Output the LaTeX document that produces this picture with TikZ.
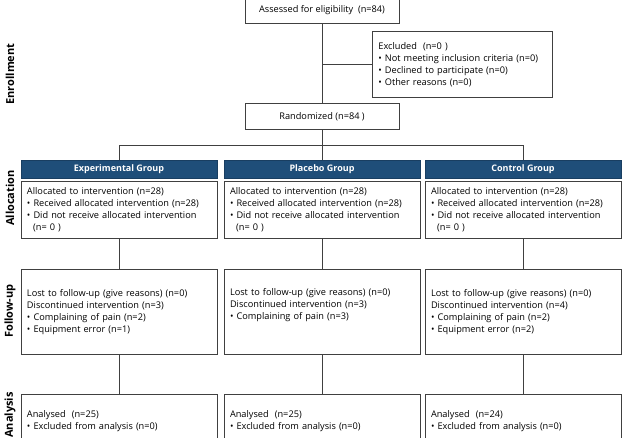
\documentclass[tikz,border=0pt]{standalone}
\usepackage{fontspec}
\setmainfont{Open Sans}
\usepackage{tikz}
\usetikzlibrary{positioning,calc}
\definecolor{FlowNavy}{HTML}{1F4E79}
\definecolor{FlowLine}{HTML}{404040}

\begin{document}
\begin{tikzpicture}[
  x=1pt, y=-1pt,
  panel/.style={draw=FlowLine, line width=0.8pt, fill=white, text width=184pt, inner xsep=6pt, inner ysep=0pt, minimum width=196pt, align=left, font=\fontsize{9.2}{12}\selectfont},
  small/.style={draw=FlowLine, line width=0.8pt, fill=white, minimum width=154pt, minimum height=26pt, align=center, font=\fontsize{9.2}{12}\selectfont},
  header/.style={draw=FlowNavy!80!black, fill=FlowNavy, text=white, minimum width=196pt, minimum height=18pt, inner sep=0pt, font=\fontsize{9}{10}\selectfont\bfseries},
  stage/.style={rotate=90, font=\fontsize{11}{12}\selectfont\bfseries},
  link/.style={draw=FlowLine, line width=0.8pt}
]
  \useasboundingbox (0,0) rectangle (626,438);

  % stage labels
  \node[stage] (lenrol) at (10,74) {Enrollment};
  \node[stage] (lalloc) at (10,198) {Allocation};
  \node[stage] (lfollow) at (10,311) {Follow-up};
  \node[stage] (lanalys) at (10,415) {Analysis};

  % enrollment
  \node[small] (assess) at (322,10.5) {Assessed for eligibility\ \ (n=84)};
  \node[panel, text width=168pt, minimum width=180pt, minimum height=66pt, anchor=north west] (excl) at (372,31)
    {Excluded\ \ (n=0 )\\ • Not meeting inclusion criteria (n=0)\\ • Declined to participate (n=0)\\ • Other reasons (n=0)};
  \node[small] (rand) at (322,116.5) {Randomized (n=84 )};

  % groups
  \node[header] (hexp) at (119,169) {Experimental Group};
  \node[header] (hplac) at (322,169) {Placebo Group};
  \node[header] (hctrl) at (523,169) {Control Group};

  \node[panel, minimum height=57pt, anchor=north] (aexp) at (119,181)
    {Allocated to intervention (n=28)\\ • Received allocated intervention (n=28)\\ • Did not receive allocated intervention\\ \ \ (n= 0 )};
  \node[panel, minimum height=57pt, anchor=north] (aplac) at (322,181)
    {Allocated to intervention (n=28)\\ • Received allocated intervention (n=28)\\ • Did not receive allocated intervention\\ \ \ (n= 0 )};
  \node[panel, minimum height=57pt, anchor=north] (actrl) at (523,181)
    {Allocated to intervention (n=28)\\ • Received allocated intervention (n=28)\\ • Did not receive allocated intervention\\ \ \ (n= 0 )};

  \node[panel, minimum height=85pt, anchor=north] (fexp) at (119,269)
    {Lost to follow-up (give reasons) (n=0)\\ Discontinued intervention (n=3)\\ • Complaining of pain (n=2)\\ • Equipment error (n=1)};
  \node[panel, minimum height=85pt, anchor=north] (fplac) at (322,269)
    {Lost to follow-up (give reasons) (n=0)\\ Discontinued intervention (n=3)\\ • Complaining of pain (n=3)\\ \strut};
  \node[panel, minimum height=85pt, anchor=north] (fctrl) at (523,269)
    {Lost to follow-up (give reasons) (n=0)\\ Discontinued intervention (n=4)\\ • Complaining of pain (n=2)\\ • Equipment error (n=2)};

  \node[panel, minimum height=54pt, anchor=north] (nexp) at (119,394)
    {Analysed\ \ (n=25)\\ • Excluded from analysis\ (n=0)};
  \node[panel, minimum height=54pt, anchor=north] (nplac) at (322,394)
    {Analysed\ \ (n=25)\\ • Excluded from analysis\ (n=0)};
  \node[panel, minimum height=54pt, anchor=north] (nctrl) at (523,394)
    {Analysed\ \ (n=24)\\ • Excluded from analysis\ (n=0)};

  % connectors
  \draw[link] (assess) -- (rand);
  \draw[link] (excl.west) -- (excl.west -| assess.south);
  \coordinate (split) at ($(rand.south)+(0,15.5)$);
  \draw[link] (rand) -- (split);
  \draw[link] (hexp.north) |- (split) -| (hctrl.north);
  \draw[link] (split) -- (hplac.north);
  \draw[link] (aexp) -- (fexp);
  \draw[link] (aplac) -- (fplac);
  \draw[link] (actrl) -- (fctrl);
  \draw[link] (fexp) -- (nexp);
  \draw[link] (fplac) -- (nplac);
  \draw[link] (fctrl) -- (nctrl);
\end{tikzpicture}
\end{document}
